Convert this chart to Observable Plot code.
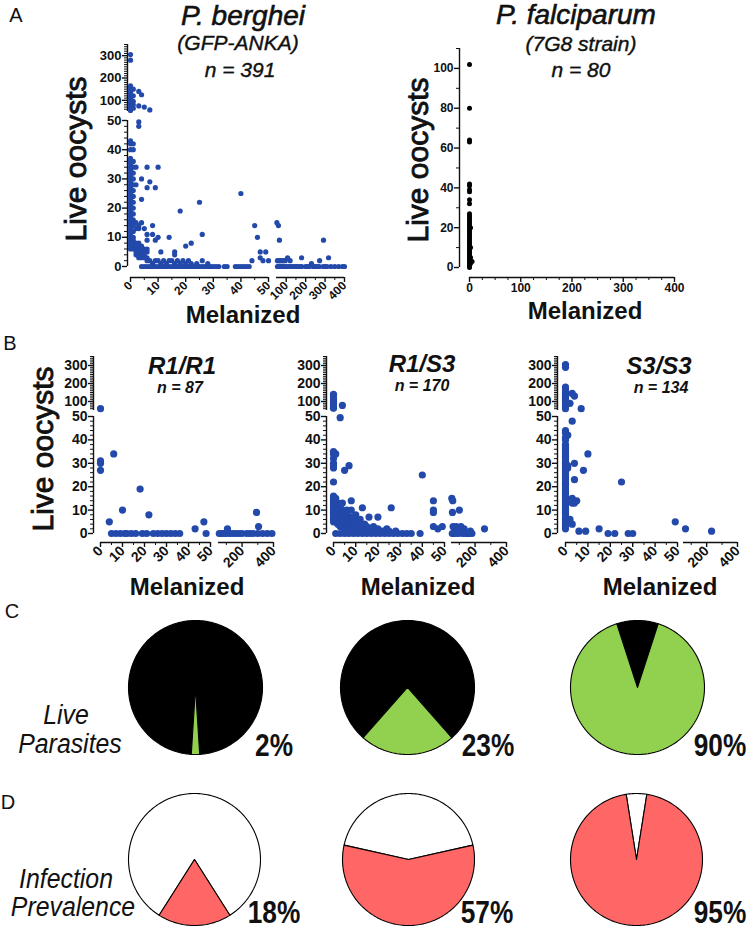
<!DOCTYPE html>
<html><head><meta charset="utf-8">
<script src="https://cdn.jsdelivr.net/npm/d3@7"></script>
<script src="https://cdn.jsdelivr.net/npm/@observablehq/plot@0.6"></script>
<style>
html,body{margin:0;padding:0;background:#fff;overflow:hidden}
#fig{position:relative;width:749px;height:930px;font-family:"Liberation Sans",Arial,Helvetica,sans-serif;color:#111;background:#fff}
#fig svg{position:absolute;left:0;top:0}
.t{position:absolute;white-space:nowrap;line-height:1;transform:translate(-50%,-50%)}
</style></head><body><div id="fig"></div>
<script>
// ---------------- DATA ----------------
const panelLetters = ["A", "B", "C", "D"];
const speciesTitles = ["P. berghei", "P. falciparum"];
const strainLabels = ["(GFP-ANKA)", "(7G8 strain)"];
const speciesN = [391, 80];
const genotypes = ["R1/R1", "R1/S3", "S3/S3"];
const genotypeN = [87, 170, 134];
const livePct = [2, 23, 90];
const prevalencePct = [18, 57, 95];
const yTitle = "Live oocysts";
const xTitle = "Melanized";
const pieRowTitles = [["Live", "Parasites"], ["Infection", "Prevalence"]];

// tick labels
const brokenYTicksLow = [0, 10, 20, 30, 40, 50];
const brokenYTicksHigh = [100, 200, 300];
const bergheiXTicksLow = [0, 10, 20, 30, 40, 50];
const bergheiXTicksHigh = [100, 200, 300, 400];
const genotypeXTicksLow = [0, 10, 20, 30, 40, 50];
const genotypeXTicksHigh = [200, 400];
const falcYTicks = [0, 20, 40, 60, 80, 100];
const falcXTicks = [0, 100, 200, 300, 400];

// [melanized, live oocysts]
const bergheiPoints = [
  [0,305],[0,280],[0,165],[0,158],[0,150],[0,142],[0,135],[0,128],[0,120],[0,112],[0,105],[0,98],[0,92],[0,85],[0,78],[0,72],[0,66],[0,60],[0,55],
  [1,150],[1,120],[1,95],[1,80],[1,65],
  [3,140],[4,125],[3,75],[5,70],[7,57],[3,49.5],[3,48],
  [0,43],[0,42],[0,40],[0,37],[0,36],[0,35],[0,34],[0,33],[0,32],[0,31],[0,30],[0,29],[0,28],[0,27],[0,26],[0,25],[0,24],[0,23],[0,22],[0,21],[0,20],[0,19],[0,18],[0,17],[0,16],[0,15],[0,14],[0,13],[0,12],[0,11],[0,10],[0,9],[0,8],[0,7],[0,6],
  [1,42],[1,40],[1,36],[1,34],[1,32],[1,30],[1,28],[1,26],[1,24],[1,22],[1,20],[1,18],[1,16],[1,15],[1,14],[1,12],[1,10],[1,9],[1,8],[1,7],[1,6],
  [2,34],[2,28],[2,15],[2,13],[2,8],[2,7],[2,6],[2,5],[2,4],
  [3,14],[3,13],[3,8],[3,7],[3,6],[3,5],[3,4],[3,3],
  [4,30],[4,23],[4,15],[4,7],[4,6],[4,5],[4,4],[4,3],
  [5,13],[5,6],[5,5],[5,4],[5,3],
  [6,34],[6,27],[6,11],[6,9],[6,6],[6,5],[6,3],[6,2],
  [7,29],[7,2],[8,14],[8,11],[8,1],[9,27],[9,9],[9,2],[10,34],[10,10],[10,2],
  [11,5],[11,1],[12,2],[13,1],[14,10],[14,2],[15,2],[16,5],[16,4],[16,1],[17,2],[18,19],[18,1],[19,2],[20,7],[20,1],[21,2],[22,8],[22,1],[24,1],[25,22],[26,11],[26,2],[28,1],
  [40,25],[45,14],[46,10],[47,5],[49,5],[47,3],[48,2],[50,2],[44,2],
  [4,0],[5,0],[6,0],[7,0],[8,0],[9,0],[10,0],[11,0],[12,0],[13,0],[14,0],[15,0],[16,0],[17,0],[18,0],[19,0],[20,0],[21,0],[22,0],[23,0],[24,0],[25,0],[26,0],[27,0],[28,0],[29,0],[30,0],[31,0],[32,0],[34,0],[35,0],[38,0],[39,0],[40,0],[41,0],[42,0],[43,0],
  [52,15],[60,14],[65,9],[55,2],[62,2],[70,2],[78,2],[85,2],[95,2],[107,3],[120,2],[179,3],[230,1],[272,2],[292,9],[318,3],
  [55,0],[60,0],[65,0],[70,0],[75,0],[80,0],[90,0],[100,0],[110,0],[120,0],[130,0],[140,0],[150,0],[160,0],[170,0],[180,0],[200,0],[210,0],[220,0],[240,0],[250,0],[260,0],[270,0],[290,0],[300,0],[310,0],[330,0],[350,0],[370,0],[390,0],[400,0]
];

const falciparumPoints = [
  [0,102],[0,80],[0,64],[0,63],[0,42],[0,41],[0,39],[0,38],[0,34],[0,32],[0,27],[0,26],[0,25],[0,24],[0,23],[0,22],[0,21],[0,20],[0,19],[0,18],[0,17],[0,16],[0,15],[0,14],[0,13],[0,12],[0,11],[0,10],[0,9],[0,8],[0,7],[0,6],[0,5],[0,4],[0,3],[0,2],[0,1],[0,0],
  [2,20],[2,10],[2,5],[2,2],[5,3]
];

const r1r1Points = [
  [0,60],[0,31],[0,30],[0,27],[6,34],[18,19],[4,5],[10,10],[22,8],[47,5],[43,2],
  [5,0],[7,0],[9,0],[11,0],[12,0],[14,0],[16,0],[19,0],[21,0],[24,0],[26,0],[28,0],[30,0],[32,0],[34,0],[36,0],[48,0],
  [107,2],[292,9],[305,3],
  [55,0],[70,0],[85,0],[100,0],[120,0],[140,0],[160,0],[180,0],[200,0],[230,0],[250,0],[270,0],[300,0],[330,0],[360,0],[390,0]
];

const r1s3Points = [
  [0,140],[0,125],[0,110],[0,100],[0,90],[0,80],[0,70],[0,62],[4,78],[3,49.5],
  [0,35],[0,34],[0,32],[0,30],[0,29],[0,28],[1,34],[7,29],[5,27],[0,22],[0,16],[0,15],[0,14],[0,13],[0,12],[0,11],[0,10],[1,15],[2,13],[3,12],[4,13],[8,14],
  [40,25],[45,14],[26,11],[13,11],[45,10],
  [0,9],[0,8],[0,7],[0,6],[0,5],[1,9],[1,7],[1,5],[2,10],[2,8],[2,6],[2,4],[3,9],[3,7],[3,5],[3,3],[4,10],[4,8],[4,6],[4,3],[5,9],[5,7],[5,5],[5,2],[6,10],[6,8],[6,5],[6,3],[7,6],[7,4],[7,2],[8,10],[8,7],[8,5],[8,3],[9,6],[9,4],[9,2],[10,8],[10,5],[10,3],[11,4],[11,2],[12,6],[12,3],[13,2],[14,4],[14,1],[15,3],[16,7],[16,2],[18,3],[18,1],[20,7],[20,2],[22,1],[24,2],[25,1],[28,1],
  [1,0],[3,0],[5,0],[7,0],[9,0],[11,0],[13,0],[15,0],[17,0],[19,0],[21,0],[23,0],[25,0],[27,0],[29,0],[31,0],[33,0],[35,0],[39,0],
  [45,9],[45,3],[47,2],[49,3],
  [52,15],[58,14],[56,9],[100,10],[60,3],[70,2],[80,3],[90,1],[110,3],[130,2],[150,0],[170,1],[180,0],[260,2],[55,0],[65,0],[75,0],[95,0],[120,0],[140,0],[160,0]
];

const s3s3Points = [
  [0,305],[0,290],[0,180],[0,165],[0,150],[0,140],[0,130],[0,120],[0,110],[0,100],[0,90],[0,80],[0,70],[0,60],[3,145],[4,130],[2,90],[7,60],[3,48],
  [0,44],[0,43],[0,41],[0,40],[0,38],[0,37],[0,36],[0,35],[0,34],[0,33],[0,32],[0,31],[0,30],[0,29],[0,28],[0,27],[0,26],[0,25],[0,24],[0,23],[0,22],[0,21],[0,20],[0,19],[0,18],[0,17],[0,16],[0,15],[0,14],[0,13],[0,12],[0,11],[0,10],[0,9],[0,8],[0,7],[0,6],[0,5],[0,4],[0,3],[0,2],
  [1,42],[10,34],[4,30],[1,29],[8,27],[4,23],[25,22],[5,14],[4,13],[3,13],[3,15],[1,28],
  [2,6],[3,4],[6,1],[9,1],[15,2],[19,0],[22,0],[28,0],[30,0],[49,5],[63,2],[232,1]
];

// ---------------- DRAWING ----------------
const W = 749, H = 930;
const ink = "#111";
const blue = "#2349ab";
const green = "#92d050";
const red = "#ff6666";
const fig = document.getElementById("fig");
const plotStyle = {background: "transparent", fontFamily: "'Liberation Sans', Arial, sans-serif", overflow: "visible", color: ink};

function addSvg(svg) { svg.style.position = "absolute"; svg.style.left = "0"; svg.style.top = "0"; fig.appendChild(svg); }

// One Plot per axis segment pair; each with its own linear scales.
function scatter(o) {
  const all = o.points.map(([mel, live]) => ({mel, live}));
  const dx = o.ax - o.xSegs[0].range[0];
  const dy = o.ay - o.ySegs[0].range[0];
  o.xSegs.forEach((xs, i) => o.ySegs.forEach((ys, j) => {
    const inXs = v => (i === 0 ? v <= xs.domain[1] : v > o.xSegs[0].domain[1] && v <= xs.domain[1]);
    const inYs = v => (j === 0 ? v <= ys.domain[1] : v > o.ySegs[0].domain[1] && v <= ys.domain[1]);
    const data = all.filter(d => inXs(d.mel) && inYs(d.live));
    const marks = [];
    if (i === 0) {
      marks.push(
        Plot.ruleX([{x: xs.domain[0], y1: ys.domain[0], y2: ys.domain[1]}], {x: "x", y1: "y1", y2: "y2", dx, stroke: ink, strokeWidth: 1.4}),
        Plot.axisY(ys.minor, {anchor: "left", tickSize: 3, fill: "none", label: null, stroke: ink, strokeWidth: 1}),
        Plot.axisY(ys.ticks, {anchor: "left", tickSize: 5, tickPadding: 1, fontSize: o.fs, fontWeight: "bold", label: null, stroke: ink, fill: ink, strokeWidth: 1.4})
      );
    }
    if (j === 0) {
      marks.push(
        Plot.ruleY([{y: ys.domain[0], x1: xs.domain[0], x2: xs.domain[1]}], {y: "y", x1: "x1", x2: "x2", dy, stroke: ink, strokeWidth: 1.4}),
        Plot.axisX(xs.minor, {anchor: "bottom", tickSize: 3, fill: "none", label: null, stroke: ink, strokeWidth: 1}),
        Plot.axisX(xs.ticks, {anchor: "bottom", tickSize: 5, tickPadding: o.xPad, tickRotate: o.rot, fontSize: o.xfs || o.fs, fontWeight: "bold", label: null, stroke: ink, fill: ink, strokeWidth: 1.4})
      );
    }
    marks.push(Plot.dot(data, {x: "mel", y: "live", r: o.r, fill: o.color, stroke: "none"}));
    addSvg(Plot.plot({
      width: W, height: H,
      marginLeft: o.ax, marginRight: 0, marginTop: 0, marginBottom: H - o.ay,
      x: {domain: xs.domain, range: xs.range, axis: null},
      y: {domain: ys.domain, range: ys.range, axis: null},
      style: plotStyle,
      marks
    }));
  }));
}

const lowMinor = d3.range(2, 50, 2).filter(v => v % 10);
const highMinor = d3.range(60, 351, 10).filter(v => v % 100);

// Panel A, P. berghei (broken axes)
scatter({
  points: bergheiPoints, color: blue, r: 2.6, fs: 13, xfs: 12, rot: -45, xPad: 1,
  ax: 127, ay: 277,
  xSegs: [
    {domain: [0, 50], range: [130, 268], ticks: bergheiXTicksLow, minor: [5, 15, 25, 35, 45]},
    {domain: [50, 400], range: [276, 344], ticks: bergheiXTicksHigh, minor: [150, 250, 350]}
  ],
  ySegs: [
    {domain: [0, 50], range: [266, 120], ticks: brokenYTicksLow, minor: lowMinor},
    {domain: [50, 350], range: [111, 44], ticks: brokenYTicksHigh, minor: highMinor}
  ]
});

// Panel A, P. falciparum
scatter({
  points: falciparumPoints, color: "#000", r: 2.5, fs: 12, rot: 0, xPad: 1,
  ax: 459, ay: 277,
  xSegs: [{domain: [0, 400], range: [469, 674], ticks: falcXTicks, minor: d3.range(25, 400, 25).filter(v => v % 100)}],
  ySegs: [{domain: [0, 110], range: [267, 48], ticks: falcYTicks, minor: [10, 30, 50, 70, 90, 110]}]
});

// Panel B genotypes
const bXRanges = [[100, 210, 218, 273], [333, 444, 451, 506], [565, 677, 683, 737]];
const bAxisX = [93, 326, 557];
[r1r1Points, r1s3Points, s3s3Points].forEach((pts, k) => scatter({
  points: pts, color: blue, r: 3.6, fs: 14, rot: -45, xPad: 1,
  ax: bAxisX[k], ay: 542,
  xSegs: [
    {domain: [0, 50], range: [bXRanges[k][0], bXRanges[k][1]], ticks: genotypeXTicksLow, minor: [5, 15, 25, 35, 45]},
    {domain: [50, 400], range: [bXRanges[k][2], bXRanges[k][3]], ticks: genotypeXTicksHigh, minor: [100, 300]}
  ],
  ySegs: [
    {domain: [0, 50], range: [533, 416], ticks: brokenYTicksLow, minor: lowMinor},
    {domain: [50, 350], range: [410, 356], ticks: brokenYTicksHigh, minor: highMinor}
  ]
}));

// Pies
function wedge(a0, a1) {
  const n = Math.max(2, Math.ceil((a1 - a0) / 1.5));
  const pts = [{x: 0, y: 0}];
  for (let i = 0; i <= n; i++) {
    const a = (a0 + (a1 - a0) * i / n) * Math.PI / 180;
    pts.push({x: Math.sin(a), y: Math.cos(a)});
  }
  pts.push({x: 0, y: 0});
  return pts;
}
function pie(pct, color, restColor, cx, cy, r) {
  const half = pct * 1.8;
  addSvg(Plot.plot({
    width: W, height: H, margin: 0,
    x: {domain: [-1, 1], range: [cx - r, cx + r], axis: null},
    y: {domain: [-1, 1], range: [cy + r, cy - r], axis: null},
    style: {background: "transparent", overflow: "visible"},
    marks: [
      Plot.line(wedge(180 + half, 540 - half), {x: "x", y: "y", fill: restColor, stroke: "#000", strokeWidth: 1.1, curve: "linear"}),
      Plot.line(wedge(180 - half, 180 + half), {x: "x", y: "y", fill: color, stroke: "#000", strokeWidth: 1.1, curve: "linear"})
    ]
  }));
}
[195, 407, 637].forEach((cx, i) => pie(livePct[i], green, "#000", cx, 687, 67));
[194, 408, 636].forEach((cx, i) => pie(prevalencePct[i], red, "#fff", cx, 859, 66));

// ---------------- TEXT ----------------
function txt(s, cx, cy, css) {
  const d = document.createElement("div");
  d.className = "t";
  d.textContent = s;
  d.style.left = cx + "px";
  d.style.top = cy + "px";
  Object.assign(d.style, css || {});
  fig.appendChild(d);
}
const letterCss = {fontSize: "20px"};
txt(panelLetters[0], 16, 15, letterCss);
txt(panelLetters[1], 10, 343, letterCss);
txt(panelLetters[2], 12, 611, letterCss);
txt(panelLetters[3], 8, 802, letterCss);

const titleCss = {fontSize: "28px", fontStyle: "italic", webkitTextStroke: "0.6px #111"};
const subCss = {fontSize: "21px", fontStyle: "italic", webkitTextStroke: "0.4px #111"};
txt(speciesTitles[0], 243, 16, titleCss);
txt(strainLabels[0], 238, 42, subCss);
txt("n = " + speciesN[0], 240, 69, subCss);
txt(speciesTitles[1], 576, 15, titleCss);
txt(strainLabels[1], 581, 43, subCss);
txt("n = " + speciesN[1], 581, 69, subCss);

const yTitleCss = {fontSize: "30px", webkitTextStroke: "0.9px #111", transform: "translate(-50%,-50%) rotate(-90deg)"};
txt(yTitle, 76, 159, yTitleCss);
txt(yTitle, 418, 160, yTitleCss);
txt(yTitle, 43, 449, yTitleCss);

const xTitleCss = {fontSize: "24px", fontWeight: "bold"};
txt(xTitle, 243, 315, xTitleCss);
txt(xTitle, 585, 311, xTitleCss);
[187, 418, 660].forEach(cx => txt(xTitle, cx, 587, xTitleCss));

const gTitleCss = {fontSize: "24px", fontWeight: "bold", fontStyle: "italic"};
const gNCss = {fontSize: "16px", fontWeight: "bold", fontStyle: "italic"};
[[182, 366, 180, 388], [422, 364, 422, 386], [659, 366, 661, 388]].forEach(([tx, ty, nx, ny], i) => {
  txt(genotypes[i], tx, ty, gTitleCss);
  txt("n = " + genotypeN[i], nx, ny, gNCss);
});

const rowCss = {fontSize: "27px", fontStyle: "italic", transform: "translate(-50%,-50%) scaleX(0.92)"};
txt(pieRowTitles[0][0], 66, 715, rowCss);
txt(pieRowTitles[0][1], 70, 744, rowCss);
txt(pieRowTitles[1][0], 66, 879, rowCss);
txt(pieRowTitles[1][1], 73, 907, rowCss);

const pctCss = {fontSize: "32px", fontWeight: "bold", transform: "translate(-50%,-50%) scaleX(0.82)"};
[274, 488, 720].forEach((cx, i) => txt(livePct[i] + "%", cx, 745, pctCss));
[274, 487, 720].forEach((cx, i) => txt(prevalencePct[i] + "%", cx, 912, pctCss));
</script></body></html>
